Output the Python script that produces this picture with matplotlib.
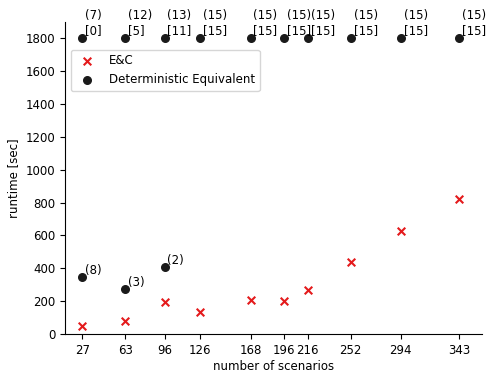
import matplotlib
matplotlib.use("Agg")
import matplotlib.pyplot as plt

#données
scenarios = [27, 63, 96, 126, 168, 196, 216, 252, 294, 343]
ec_runtime = [50, 80, 195, 135, 210, 200, 270, 440, 630, 820]

#équivalent déterministe : résolus
de_x = [27, 63, 96]
de_runtime = [350, 275, 410]
de_labels = ["(8)", "(3)", "(2)"]

#équivalent déterministe : timeout
to_x = [27, 63, 96, 126, 168, 196, 216, 252, 294, 343]
to_runtime = [1800] * 10
to_labels = ["(7)\n[0]", "(12)\n[5]", "(13)\n[11]", "(15)\n[15]", "(15)\n[15]",
             "(15)\n[15]", "(15)\n[15]", "(15)\n[15]", "(15)\n[15]", "(15)\n[15]"]

fs = 8.5
fig = plt.figure(figsize=(4.88, 3.72), dpi=100)
ax = fig.add_axes([65/488, 1-334/372, 417/488, 312/372])

ax.scatter(scenarios, ec_runtime, marker="x", c="#e41a1c", s=30, label="E&C")
ax.scatter(de_x + to_x, de_runtime + to_runtime, c="#1a1a1a", s=30,
           label="Deterministic Equivalent")

for x, y, t in zip(de_x, de_runtime, de_labels):
    ax.annotate(t, (x, y), xytext=(2, 2), textcoords="offset points", fontsize=fs)
for x, y, t in zip(to_x, to_runtime, to_labels):
    ax.annotate(t, (x, y), xytext=(2, 1), textcoords="offset points", fontsize=fs,
                ha="left", va="bottom", linespacing=1.2)

ax.set_xticks(scenarios)
ax.set_yticks(range(0, 1801, 200))
ax.set_xlim(12.5, 362)
ax.set_ylim(0, 1900)
ax.set_xlabel("number of scenarios", fontsize=fs, labelpad=2)
ax.set_ylabel("runtime [sec]", fontsize=fs)
ax.tick_params(labelsize=fs)
ax.spines["top"].set_visible(False)
ax.spines["right"].set_visible(False)
ax.legend(loc="upper left", bbox_to_anchor=(0.0, 0.93), fontsize=fs)

fig.savefig("out.png", dpi=100)
